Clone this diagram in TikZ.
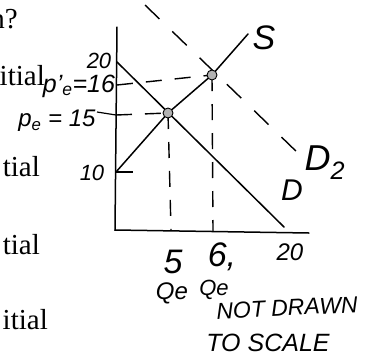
\documentclass[tikz,border=0pt]{standalone}
\usepackage{fontspec}
\setmainfont{Liberation Serif}
\newfontfamily\hand{Liberation Sans}
\begin{document}
\begin{tikzpicture}[x=1pt,y=-1pt,
  axisline/.style={line width=1.5pt, line cap=round},
  curveline/.style={line width=1.5pt, line cap=round},
  guide/.style={line width=1.4pt, dash pattern=on 16pt off 13pt},
  dguide/.style={line width=1.4pt, dash pattern=on 20pt off 18pt},
  eqpt/.style={circle, fill=gray!60, draw=black, line width=0.9pt, minimum size=10pt, inner sep=0pt},
  serif/.style={font=\fontsize{29}{29}\selectfont, inner sep=0pt, anchor=base east},
  hw/.style={font=\hand\itshape\fontsize{22}{22}\selectfont, inner sep=0pt},
  hwbig/.style={font=\hand\itshape\fontsize{34}{34}\selectfont, inner sep=0pt},
]
\useasboundingbox (0,0) rectangle (368,360);
\clip (0,0) rectangle (368,360);

% key points
\coordinate (O) at (115,230);
\coordinate (Ytop) at (117,27);
\coordinate (Xend) at (309,233);
\coordinate (Dtop) at (117,62);
\coordinate (Dbot) at (284,227);
\coordinate (Sbot) at (116,172);
\coordinate (Stop) at (248,34);
\coordinate (P15) at (116,115);
\coordinate (P16) at (117,85);
\coordinate (Q5) at (171,230);
\coordinate (Q6) at (213,231);
\coordinate (D2a) at (145,5);
\coordinate (D2b) at (300,155);
\coordinate (T15) at (97,112);
\coordinate (T10) at (133,172);
\coordinate (E1c) at (168,113);
\coordinate (E2c) at (212,75);

% axes
\draw[axisline] (Ytop) -- (O) -- (Xend);

% supply and demand
\draw[curveline] (Dtop) -- (Dbot);
\draw[curveline] (Sbot) -- (E1c) -- (E2c) -- (Stop);
\draw[dguide] (D2a) -- (D2b);

% guides
\draw[guide] (P15) -- (E1c);
\draw[guide] (P16) -- (E2c);
\draw[guide] (E1c) -- (Q5);
\draw[guide] (E2c) -- (Q6);

% ticks
\draw[line width=1.2pt] (T15) -- (P15);
\draw[line width=1.2pt] (Sbot) -- (T10);

% equilibria
\node[eqpt] (E1) at (E1c) {};
\node[eqpt] (E2) at (E2c) {};

% printed text (cut off at left)
\node[serif] (t1) at (18,28) {n?};
\node[serif] (t2) at (45,85) {itial};
\node[serif] (t3) at (40,176) {tial};
\node[serif] (t4) at (40,254) {tial};
\node[serif] (t5) at (48,329) {itial};

% handwritten labels
\node[hw] (l20y) at (99,61) {20};
\node[hw, font=\hand\itshape\fontsize{25}{25}\selectfont] (l16) at (79,86) {p’\textsubscript{e}=16};
\node[hw, font=\hand\itshape\fontsize{24}{24}\selectfont] (l15) at (57,121) {p\textsubscript{e} = 15};
\node[hw] (l10) at (92,173) {10};
\node[hwbig] (l5) at (173,262) {5};
\node[hwbig] (l6) at (222,257) {6,};
\node[hw, font=\hand\itshape\fontsize{24}{24}\selectfont] (l20x) at (290,252) {20};
\node[hw, font=\hand\itshape\fontsize{24}{24}\selectfont] (qe1) at (172,293) {Qe};
\node[hw] (qe2) at (214,290) {Qe};
\node[hw, font=\hand\itshape\fontsize{23}{23}\selectfont, rotate=3] (nd) at (287,308) {NOT DRAWN};
\node[hw, font=\hand\itshape\fontsize{25}{25}\selectfont] (ts) at (268,343) {TO SCALE};
\node[hwbig] (lS) at (264,38) {S};
\node[hw, font=\hand\itshape\fontsize{30}{30}\selectfont] (lD) at (292,190) {D};
\node[hw, font=\hand\itshape\fontsize{36}{36}\selectfont] (lD2) at (325,163) {D\textsubscript{2}};
\end{tikzpicture}
\end{document}
